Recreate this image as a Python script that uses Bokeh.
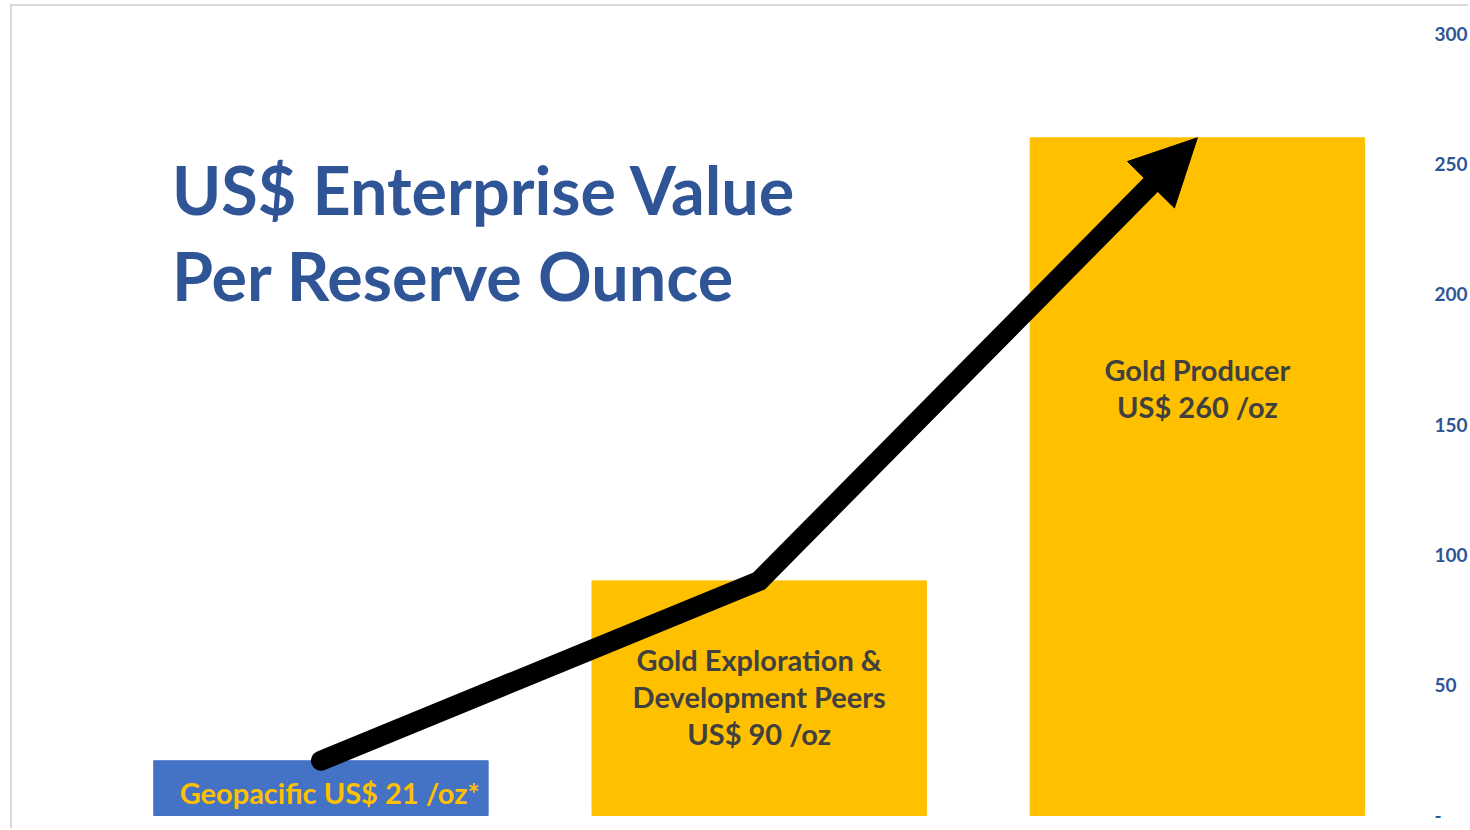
from bokeh.plotting import figure
from bokeh.models import Range1d, FixedTicker, Arrow, NormalHead, ColumnDataSource, Label
from bokeh.embed import file_html
from bokeh.resources import INLINE
from bokeh.core.properties import value

# ---- data ----
categories = ["Geopacific", "Gold Exploration & Development Peers", "Gold Producer"]
values = [21, 90, 260]
bar_colors = ["#4472C4", "#FFC000", "#FFC000"]
bar_labels = ["Geopacific US$ 21 /oz*",
              "Gold Exploration &\nDevelopment Peers\nUS$ 90 /oz",
              "Gold Producer\nUS$ 260 /oz"]
y_ticks = [0, 50, 100, 150, 200, 250, 300]
title_lines = ["US$ Enterprise Value", "Per Reserve Ounce"]

FONT = "Lato"
BLUE_TXT = "#2F5597"

xs = list(range(len(categories)))

p = figure(width=1458, height=824, output_backend="svg", toolbar_location=None,
           x_range=Range1d(-0.7039, 2.4886), y_range=Range1d(-5.754, 310.36),
           y_axis_location="right", min_border_left=0, min_border_top=0,
           min_border_bottom=0, min_border_right=30)
p.styles = {"margin-left": "10px", "margin-top": "4px",
            "border-top": "2px solid #d9d9d9", "border-left": "2px solid #d9d9d9"}
p.outline_line_color = None
p.xgrid.visible = False
p.ygrid.visible = False
p.xaxis.visible = False
p.background_fill_color = "white"
p.border_fill_color = "white"

ax = p.yaxis[0]
ax.ticker = FixedTicker(ticks=y_ticks)
ax.major_label_overrides = {0: "-"}
ax.axis_line_color = None
ax.major_tick_line_color = None
ax.minor_tick_line_color = None
ax.major_label_text_color = BLUE_TXT
ax.major_label_text_font = FONT
ax.major_label_text_font_style = "bold"
ax.major_label_text_font_size = "19px"
ax.major_label_standoff = 17

src = ColumnDataSource(dict(x=xs, top=values, color=bar_colors, cat=categories))
p.vbar(x="x", top="top", bottom=0, width=0.763, color="color", source=src)

# arrow through the bar tops
head_px = 66
sx = 439.0      # px per category
sy = 782 / 300  # px per unit
dxp = (xs[2] - xs[1]) * sx
dyp = (values[2] - values[1]) * sy
seg = (dxp ** 2 + dyp ** 2) ** 0.5
f = (head_px - 4) / seg
bx = xs[2] - f * (xs[2] - xs[1])
by = values[2] - f * (values[2] - values[1])
p.line(x=[xs[0], xs[1], bx], y=[values[0], values[1], by], line_width=20,
       line_color="black", line_cap="round", line_join="miter")
p.add_layout(Arrow(end=NormalHead(size=head_px, fill_color="black", line_color="black", line_width=1),
                   x_start=bx, y_start=by, x_end=xs[2], y_end=values[2],
                   line_width=0, line_alpha=0))

# bar labels
LBL_SIZE = "29px"
p.text(x=[xs[0] + 0.02], y=[8.8], text=[bar_labels[0]], text_font=value(FONT),
       text_font_style="bold", text_font_size=LBL_SIZE, text_color="#FFC000",
       text_align="center", text_baseline="middle")
p.text(x=[xs[1]], y=[45.5], text=[bar_labels[1]], text_font=value(FONT),
       text_font_style="bold", text_font_size=LBL_SIZE, text_color="#404040",
       text_align="center", text_baseline="middle", text_line_height=1.06)
p.text(x=[xs[2]], y=[164], text=[bar_labels[2]], text_font=value(FONT),
       text_font_style="bold", text_font_size=LBL_SIZE, text_color="#404040",
       text_align="center", text_baseline="middle", text_line_height=1.06)

# title
p.add_layout(Label(x=-0.34, y=240.5, text=title_lines[0], text_font=FONT,
                   text_font_style="bold", text_font_size="66.5px", text_color=BLUE_TXT,
                   text_baseline="alphabetic"))
p.add_layout(Label(x=-0.34, y=207.2, text=title_lines[1], text_font=FONT,
                   text_font_style="bold", text_font_size="66.5px", text_color=BLUE_TXT,
                   text_baseline="alphabetic"))

open("out.html", "w").write(file_html(p, INLINE))
